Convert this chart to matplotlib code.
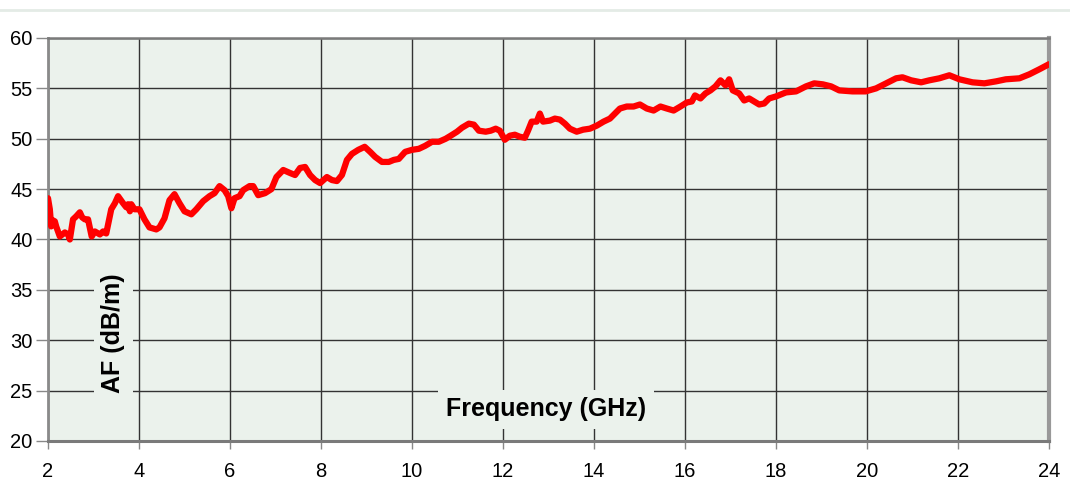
import matplotlib
matplotlib.use("Agg")
import matplotlib.pyplot as plt
from matplotlib.lines import Line2D

freq_ghz = [2.00, 2.04, 2.07, 2.11, 2.15, 2.18, 2.26, 2.37, 2.44, 2.48, 2.55, 2.62, 2.70, 2.75, 2.81,
            2.88, 2.96, 3.03, 3.14, 3.21, 3.28, 3.39, 3.47, 3.54, 3.65, 3.72, 3.76, 3.80, 3.83, 3.90,
            4.01, 4.12, 4.23, 4.38, 4.45, 4.56, 4.67, 4.78, 4.89, 5.00, 5.15, 5.26, 5.41, 5.55, 5.66,
            5.77, 5.88, 5.96, 6.03, 6.10, 6.21, 6.29, 6.43, 6.51, 6.62, 6.77, 6.91, 7.02, 7.17, 7.32,
            7.43, 7.54, 7.65, 7.76, 7.87, 7.98, 8.13, 8.24, 8.35, 8.46, 8.57, 8.68, 8.82, 8.96, 9.08,
            9.19, 9.34, 9.49, 9.60, 9.71, 9.85, 10.00, 10.15, 10.29, 10.44, 10.59, 10.74, 10.85, 10.99,
            11.10, 11.25, 11.36, 11.47, 11.62, 11.73, 11.84, 11.93, 12.04, 12.15, 12.26, 12.37, 12.48,
            12.55, 12.63, 12.74, 12.81, 12.88, 13.03, 13.14, 13.25, 13.36, 13.47, 13.62, 13.76, 13.91,
            14.06, 14.21, 14.35, 14.46, 14.57, 14.72, 14.87, 15.01, 15.16, 15.31, 15.46, 15.60, 15.75,
            15.90, 16.04, 16.15, 16.22, 16.34, 16.45, 16.56, 16.67, 16.78, 16.89, 16.97, 17.05, 17.19,
            17.30, 17.41, 17.52, 17.63, 17.74, 17.85, 18.00, 18.22, 18.44, 18.66, 18.84, 19.03, 19.21,
            19.39, 19.68, 19.97, 20.20, 20.42, 20.64, 20.78, 20.97, 21.19, 21.37, 21.59, 21.81, 22.03,
            22.32, 22.58, 22.84, 23.05, 23.35, 23.57, 23.79, 24.00]
af_dbm = [44.1, 43.0, 41.3, 41.9, 41.8, 41.3, 40.3, 40.7, 40.5, 40.0, 42.0, 42.3, 42.7, 42.2, 42.0,
          42.0, 40.3, 40.8, 40.5, 40.8, 40.6, 43.0, 43.6, 44.3, 43.6, 43.2, 43.5, 42.8, 43.5, 43.0,
          43.0, 42.0, 41.2, 41.0, 41.2, 42.1, 43.9, 44.5, 43.6, 42.8, 42.5, 43.0, 43.8, 44.3, 44.6,
          45.3, 44.9, 44.3, 43.1, 44.1, 44.3, 44.9, 45.3, 45.3, 44.4, 44.6, 45.0, 46.2, 46.9, 46.6,
          46.4, 47.1, 47.2, 46.4, 45.9, 45.6, 46.2, 45.9, 45.8, 46.4, 47.9, 48.5, 48.9, 49.2, 48.7,
          48.2, 47.7, 47.7, 47.9, 48.0, 48.7, 48.9, 49.0, 49.3, 49.7, 49.7, 50.0, 50.3, 50.7,
          51.1, 51.5, 51.4, 50.8, 50.7, 50.8, 51.0, 50.8, 49.9, 50.3, 50.4, 50.2, 50.1,
          50.8, 51.7, 51.7, 52.5, 51.7, 51.8, 52.0, 51.9, 51.5, 51.0, 50.7, 50.9, 51.0,
          51.3, 51.7, 52.0, 52.5, 53.0, 53.2, 53.2, 53.4, 53.0, 52.8, 53.2, 53.0, 52.8,
          53.2, 53.6, 53.7, 54.3, 54.0, 54.5, 54.8, 55.2, 55.8, 55.3, 55.9, 54.8, 54.5,
          53.8, 54.0, 53.7, 53.4, 53.5, 54.0, 54.2, 54.6, 54.7, 55.2, 55.5, 55.4, 55.2,
          54.8, 54.7, 54.7, 55.0, 55.5, 56.0, 56.1, 55.8, 55.6, 55.8, 56.0, 56.3, 55.9,
          55.6, 55.5, 55.7, 55.9, 56.0, 56.4, 56.9, 57.4]

x_ticks = [2, 4, 6, 8, 10, 12, 14, 16, 18, 20, 22, 24]
y_ticks = [20, 25, 30, 35, 40, 45, 50, 55, 60]
x_label = "Frequency (GHz)"
y_label = "AF (dB/m)"

plt.rcParams['font.family'] = ['Liberation Sans', 'DejaVu Sans']

BG = '#EBF2EC'
fig = plt.figure(figsize=(10.7, 4.9), dpi=100)
fig.patch.set_facecolor('white')
ax = fig.add_axes([48 / 1070, 49 / 490, 1001 / 1070, 403 / 490])
ax.set_facecolor(BG)

ax.set_xlim(2, 24)
ax.set_ylim(20, 60)
ax.set_xticks(x_ticks)
ax.set_yticks(y_ticks)
ax.tick_params(axis='both', labelsize=14.5, colors='#888888', labelcolor='black', width=1)
ax.tick_params(axis='y', direction='out', length=9, pad=2)
ax.tick_params(axis='x', direction='out', length=6, pad=9)

ax.grid(True, color='#333333', linewidth=1.0, zorder=1)
ax.set_axisbelow(True)

for side, lw, col in [('left', 2.0, '#8a8a8a'), ('bottom', 2.2, '#7a7a7a'),
                      ('right', 3.0, '#999999'), ('top', 1.8, '#7a7a7a')]:
    ax.spines[side].set_linewidth(lw)
    ax.spines[side].set_color(col)

ax.plot(freq_ghz, af_dbm, color='#FF0000', linewidth=4.5, solid_joinstyle='round',
        solid_capstyle='round', zorder=4)

ax.text((113 - 48) / 1001, (441 - 333) / 403, y_label, transform=ax.transAxes,
        rotation=90, ha='center', va='center', fontsize=18, fontweight='bold',
        bbox=dict(boxstyle='square,pad=0.3', facecolor=BG, edgecolor='none'), zorder=3)
ax.text((546 - 48) / 1001, (441 - 409) / 403, x_label, transform=ax.transAxes,
        ha='center', va='center', fontsize=18, fontweight='bold',
        bbox=dict(boxstyle='square,pad=0.3', facecolor=BG, edgecolor='none'), zorder=3)

fig.add_artist(Line2D([0, 1], [1 - 10 / 490, 1 - 10 / 490], color='#E4EBE6', linewidth=2))

fig.savefig('out.png', dpi=100, facecolor='white')
